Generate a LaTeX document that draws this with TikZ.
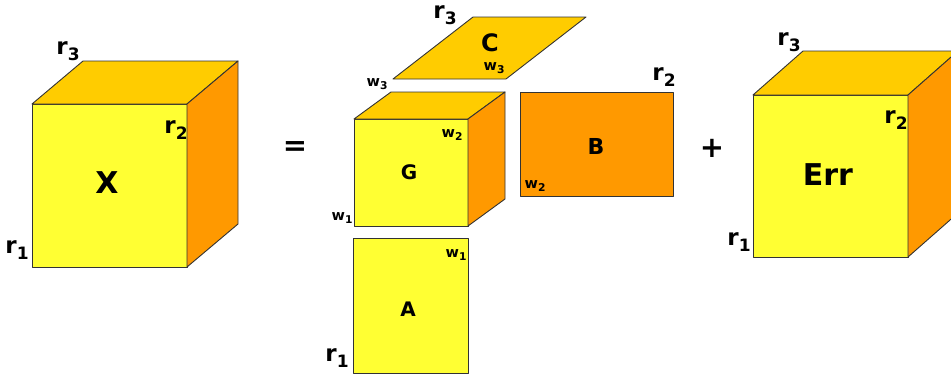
\documentclass[tikz,border=0pt]{standalone}
\usepackage{fontspec}
\setmainfont{DejaVu Sans}
\definecolor{frontc}{HTML}{FFFF33}
\definecolor{topc}{HTML}{FFCC00}
\definecolor{sidec}{HTML}{FF9900}
\definecolor{edgec}{HTML}{333333}
% index letter with a lowered, smaller subscript digit
\newcommand\idx[2]{#1\kern0.01em\raisebox{-0.45ex}{\scalebox{0.74}{#2}}}
\tikzset{
  face/.style={draw=edgec, line width=0.9pt, line join=round},
  bigname/.style={font=\bfseries\fontsize{30}{30}\selectfont, inner sep=0pt},
  midname/.style={font=\bfseries\fontsize{21}{21}\selectfont, inner sep=0pt},
  dimr/.style={font=\bfseries\fontsize{23}{23}\selectfont, inner sep=0pt},
  dimw/.style={font=\bfseries\fontsize{14.5}{14.5}\selectfont, inner sep=0pt},
  opsign/.style={font=\bfseries\fontsize{29}{29}\selectfont, inner sep=0pt},
}
\begin{document}
\begin{tikzpicture}[x=1pt,y=-1pt]
\clip (0,0) rectangle (951,375);
\fill[white] (0,0) rectangle (951,375);

% tensor X
\filldraw[face,fill=frontc] (32,104) rectangle (187,267);
\filldraw[face,fill=topc] (32,104) -- (83,61) -- (238,61) -- (187,104) -- cycle;
\filldraw[face,fill=sidec] (187,104) -- (238,61) -- (238,224) -- (187,267) -- cycle;
\node[bigname] (nX) at (107,183) {X};
\node[dimr] (xr3) at (68,51) {\idx{r}{3}};
\node[dimr] (xr2) at (176,130) {\idx{r}{2}};
\node[dimr] (xr1) at (17,250) {\idx{r}{1}};

\node[opsign] (eq) at (295,149) {=};

% factor C
\filldraw[face,fill=topc] (393,79) -- (473,17) -- (586,17) -- (506,79) -- cycle;
\node[midname,font=\bfseries\fontsize{24}{24}\selectfont] (nC) at (490,43) {C};
\node[dimr] (cr3) at (445,15) {\idx{r}{3}};
\node[dimw] (cw3) at (494,68) {\idx{w}{3}};
\node[dimw] (cw3b) at (377,84) {\idx{w}{3}};

% core G
\filldraw[face,fill=frontc] (354,119) rectangle (468,226);
\filldraw[face,fill=topc] (354,119) -- (391,92) -- (505,92) -- (468,119) -- cycle;
\filldraw[face,fill=sidec] (468,119) -- (505,92) -- (505,199) -- (468,226) -- cycle;
\node[midname,font=\bfseries\fontsize{20}{20}\selectfont] (nG) at (409,172) {G};
\node[dimw] (gw2) at (452,135) {\idx{w}{2}};
\node[dimw] (gw1) at (342,218) {\idx{w}{1}};

% factor B
\filldraw[face,fill=sidec] (520,92) rectangle (673,196);
\node[midname,font=\bfseries\fontsize{22}{22}\selectfont] (nB) at (596,146) {B};
\node[dimw] (bw2) at (535,186) {\idx{w}{2}};
\node[dimr] (br2) at (664,77) {\idx{r}{2}};

% factor A
\filldraw[face,fill=frontc] (353,238) rectangle (468,373);
\node[midname,font=\bfseries\fontsize{20}{20}\selectfont] (nA) at (408,309) {A};
\node[dimw] (aw1) at (456,255) {\idx{w}{1}};
\node[dimr] (ar1) at (337,358) {\idx{r}{1}};

\node[opsign] (plus) at (712,148) {+};

% residual Err
\filldraw[face,fill=frontc] (753,95) rectangle (908,257);
\filldraw[face,fill=topc] (753,95) -- (803,51) -- (958,51) -- (908,95) -- cycle;
\filldraw[face,fill=sidec] (908,95) -- (958,51) -- (958,213) -- (908,257) -- cycle;
\node[bigname] (nErr) at (828,175) {Err};
\node[dimr] (er3) at (789,42) {\idx{r}{3}};
\node[dimr] (er2) at (896,120) {\idx{r}{2}};
\node[dimr] (er1) at (739,242) {\idx{r}{1}};
\end{tikzpicture}
\end{document}
